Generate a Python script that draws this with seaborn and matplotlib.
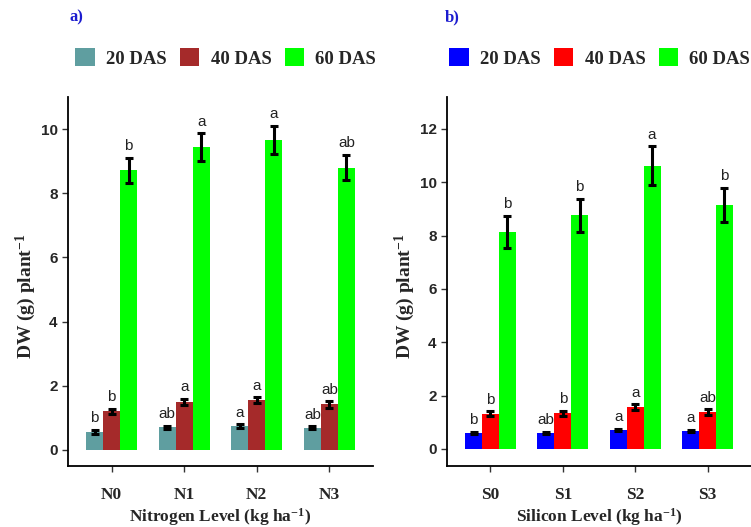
import numpy as np
import pandas as pd
import matplotlib
matplotlib.use("Agg")
import matplotlib.pyplot as plt
import seaborn as sns
from matplotlib.patches import Patch

# ---------------- data ----------------
days = ["20 DAS", "40 DAS", "60 DAS"]

n_levels = ["N0", "N1", "N2", "N3"]
n_20 = [0.57, 0.70, 0.74, 0.69]
n_40 = [1.20, 1.50, 1.55, 1.42]
n_60 = [8.72, 9.44, 9.66, 8.80]
n_20_err = [0.06, 0.06, 0.06, 0.05]
n_40_err = [0.08, 0.10, 0.10, 0.10]
n_60_err = [0.39, 0.44, 0.44, 0.40]
n_20_let = ["b", "ab", "a", "ab"]
n_40_let = ["b", "a", "a", "ab"]
n_60_let = ["b", "a", "a", "ab"]

s_levels = ["S0", "S1", "S2", "S3"]
s_20 = [0.60, 0.60, 0.71, 0.67]
s_40 = [1.32, 1.33, 1.57, 1.38]
s_60 = [8.14, 8.76, 10.62, 9.16]
s_20_err = [0.05, 0.05, 0.05, 0.05]
s_40_err = [0.10, 0.10, 0.11, 0.10]
s_60_err = [0.60, 0.62, 0.73, 0.64]
s_20_let = ["b", "ab", "a", "a"]
s_40_let = ["b", "b", "a", "ab"]
s_60_let = ["b", "b", "a", "b"]

pal_n = ["#5F9EA0", "#A52A2A", "#00FF00"]
pal_s = ["#0000FF", "#FF0000", "#00FF00"]

sns.set_style("white")
SERIF = ["Liberation Serif", "DejaVu Serif"]
SANS = ["Liberation Sans", "DejaVu Sans"]
plt.rcParams["font.family"] = SANS
plt.rcParams["mathtext.fontset"] = "custom"
plt.rcParams["mathtext.rm"] = "Liberation Serif:bold"
plt.rcParams["mathtext.bf"] = "Liberation Serif:bold"
plt.rcParams["mathtext.it"] = "Liberation Serif:bold"

fig = plt.figure(figsize=(7.51, 5.27), dpi=100)
axL = fig.add_axes([68/751, 1-466/527, (373-68)/751, (466-97)/527])
axR = fig.add_axes([447/751, 1-466/527, (751-447)/751, (466-97)/527])


def panel(ax, levels, vals, errs, lets, pal, xlabel, ylim, yticks, ylab_x):
    rows = []
    for d, v in zip(days, vals):
        for lv, y in zip(levels, v):
            rows.append({"level": lv, "day": d, "dw": y})
    df = pd.DataFrame(rows)
    sns.barplot(data=df, x="level", y="dw", hue="day", hue_order=days,
                order=levels, palette=pal, errorbar=None, width=0.7,
                saturation=1, ax=ax, legend=False, linewidth=0)
    span = ylim[1] - ylim[0]
    patches = [p for p in ax.patches if p.get_height() > 0]
    for hi in range(3):
        for li in range(4):
            p = patches[hi * 4 + li]
            xc = p.get_x() + p.get_width() / 2
            y = vals[hi][li]
            e = errs[hi][li]
            ax.errorbar(xc, y, yerr=e, fmt="none", ecolor="black",
                        elinewidth=2.2, capsize=3, capthick=2.2, zorder=5)
            ax.text(xc, y + e + span * 0.012, lets[hi][li], ha="center",
                    va="bottom", fontsize=11, fontfamily=SANS, color="#222222")
    ax.set_xlim(-0.6, 3.6)
    ax.set_ylim(*ylim)
    ax.set_yticks(yticks)
    ax.set_yticklabels([str(t) for t in yticks], fontfamily=SANS,
                       fontweight="bold", fontsize=11)
    ax.set_xticks(range(4))
    ax.set_xticklabels(levels, fontfamily=SERIF, fontweight="bold", fontsize=12.5)
    for s in ["top", "right"]:
        ax.spines[s].set_visible(False)
    for s in ["left", "bottom"]:
        ax.spines[s].set_color("black")
        ax.spines[s].set_linewidth(1.3)
    ax.tick_params(axis="both", which="both", direction="out", length=4,
                   width=1, color="#333333", left=True, bottom=True)
    ax.tick_params(axis="x", pad=11)
    ax.set_xlabel(xlabel, fontfamily=SERIF, fontweight="bold", fontsize=12.5,
                  labelpad=2)
    ax.set_ylabel(r"DW (g) plant$^{-1}$", fontfamily=SERIF,
                  fontweight="bold", fontsize=14)
    ax.yaxis.set_label_coords(ylab_x, 0.46)


panel(axL, n_levels, [n_20, n_40, n_60], [n_20_err, n_40_err, n_60_err],
      [n_20_let, n_40_let, n_60_let], pal_n,
      r"Nitrogen Level (kg ha$^{-1}$)", (-0.5, 11.0), [0, 2, 4, 6, 8, 10], -0.098)
panel(axR, s_levels, [s_20, s_40, s_60], [s_20_err, s_40_err, s_60_err],
      [s_20_let, s_40_let, s_60_let], pal_s,
      r"Silicon Level (kg ha$^{-1}$)", (-0.64, 13.2), [0, 2, 4, 6, 8, 10, 12], -0.098)

for pal, x0 in [(pal_n, 75/751), (pal_s, 449/751)]:
    handles = [Patch(facecolor=c, edgecolor="none", label=d) for c, d in zip(pal, days)]
    fig.legend(handles=handles, loc="center left", bbox_to_anchor=(x0, 1-58/527),
               ncol=3, frameon=False, handlelength=1.05, handleheight=1.05,
               handletextpad=0.6, columnspacing=0.7, borderaxespad=0, borderpad=0,
               prop={"family": SERIF, "weight": "bold", "size": 13.5})

fig.text(70/751, 1-17/527, "a)", color="#1c1ccf", fontfamily=SERIF,
         fontweight="bold", fontsize=12, va="center", ha="left")
fig.text(445/751, 1-17/527, "b)", color="#1c1ccf", fontfamily=SERIF,
         fontweight="bold", fontsize=12, va="center", ha="left")

fig.savefig("out.png", dpi=100)
